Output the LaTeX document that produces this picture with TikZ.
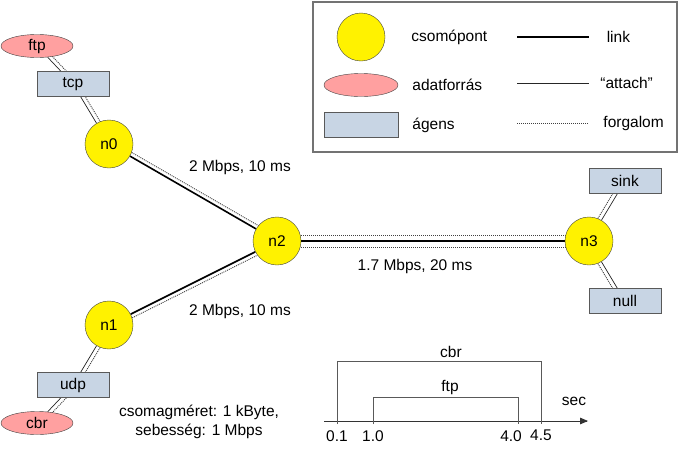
\documentclass[tikz,border=0pt]{standalone}
\usepackage{fontspec}
\setmainfont{Liberation Sans}
\usepackage{tikz}
\usetikzlibrary{shapes,arrows,backgrounds,positioning,calc}

\definecolor{srcpink}{RGB}{255,160,160}
\definecolor{agentblue}{RGB}{200,213,228}

\begin{document}
\begin{tikzpicture}[x=1pt, y=-1pt, every node/.style={font=\fontsize{15.5}{18.5}\selectfont}]
		\tikzstyle{Node} 	= [circle, draw=black!75, fill=yellow, minimum size=48pt, inner sep=0pt]
		\tikzstyle{Source}	= [ellipse, draw=black!75, fill=srcpink, minimum width=72pt, minimum height=23pt, inner sep=0pt]
		\tikzstyle{Agent}	= [rectangle, draw=black!65, fill=agentblue, minimum width=72pt, minimum height=25pt, inner sep=0pt]
		\tikzstyle{Link}	= [line width=1.6pt, black]
		\tikzstyle{Attach}	= [line width=0.7pt, black!85]
		\tikzstyle{Traffic}	= [line width=0.9pt, black!75, dash pattern=on 1pt off 1pt]
		\tikzstyle{Time}	= [line width=0.8pt, black!65]

		\useasboundingbox (0,0) rectangle (680,450);

		\node (n0) at (109, 144) [Node]{n0};
		\node (n1) at (109, 325) [Node]{n1};
		\node (n2) at (277, 241) [Node]{n2};
		\node (n3) at (589, 241) [Node]{n3};
		\node (ftp) at (37, 46) [Source]{ftp};
		\node (cbr) at (37, 423) [Source]{cbr};
		\node (tcp) at (73, 84) [Agent]{tcp};
		\node (udp) at (73, 385) [Agent]{udp};
		\node (sink) at (625, 181) [Agent]{sink};
		\node (null) at (625, 301) [Agent]{null};

		\begin{scope}[on background layer]
			\draw [-] (n0) to (n2) [Link];
			\draw [-] ($(n0)!4pt!90:(n2)$) to ($(n2)!4pt!-90:(n0)$) [Traffic];
			\draw [-] (n1) to (n2) [Link];
			\draw [-] ($(n1)!4pt!-90:(n2)$) to ($(n2)!4pt!90:(n1)$) [Traffic];
			\draw [-] (n2) to (n3) [Link];
			\draw [-] ($(n2)!6pt!90:(n3)$) to ($(n3)!6pt!-90:(n2)$) [Traffic];
			\draw [-] ($(n2)!6pt!-90:(n3)$) to ($(n3)!6pt!90:(n2)$) [Traffic];
			\draw [-] (ftp) to (tcp) [Attach];
			\draw [-] ($(ftp)!4pt!90:(tcp)$) to ($(tcp)!4pt!-90:(ftp)$) [Traffic];
			\draw [-] (tcp) to (n0) [Attach];
			\draw [-] ($(tcp)!4pt!90:(n0)$) to ($(n0)!4pt!-90:(tcp)$) [Traffic];
			\draw [-] (n1) to (udp) [Attach];
			\draw [-] ($(n1)!4pt!90:(udp)$) to ($(udp)!4pt!-90:(n1)$) [Traffic];
			\draw [-] (udp) to (cbr) [Attach];
			\draw [-] ($(udp)!4pt!90:(cbr)$) to ($(cbr)!4pt!-90:(udp)$) [Traffic];
			\draw [-] (n3) to (sink) [Attach];
			\draw [-] ($(n3)!4pt!90:(sink)$) to ($(sink)!4pt!-90:(n3)$) [Traffic];
			\draw [-] (n3) to (null) [Attach];
			\draw [-] ($(n3)!4pt!-90:(null)$) to ($(null)!4pt!90:(n3)$) [Traffic];
		\end{scope}

		\node (l02) at (240, 167) {2 Mbps, 10 ms};
		\node (l12) at (240, 311) {2 Mbps, 10 ms};
		\node (l23) at (415, 266) {1.7 Mbps, 20 ms};
		\node (size) at (199, 422) [align=center, inner sep=0pt]{csomagm\'eret: 1 kByte,\\sebess\'eg: 1 Mbps};

		% legend
		\draw [black!55, line width=1.4pt] (313, 2) rectangle (677, 152);
		\node (kNode) at (361, 37) [Node]{};
		\node (kSource) at (361, 85) [Source, minimum width=74pt]{};
		\node (kAgent) at (361, 125) [Agent, minimum width=74pt]{};
		\node [right=26pt of kNode, inner sep=0pt] {csomópont};
		\node [right=14pt of kSource, inner sep=0pt] {adatforrás};
		\node [right=14pt of kAgent, inner sep=0pt] {ágens};
		\coordinate (kLinkA) at (517, 37);
		\coordinate (kLinkB) at (589, 37);
		\coordinate (kAttA) at (517, 83);
		\coordinate (kAttB) at (589, 83);
		\coordinate (kTrA) at (517, 123);
		\coordinate (kTrB) at (589, 123);
		\draw (kLinkA) -- (kLinkB) [Link] node [right=17pt, inner sep=0pt, black]{link};
		\draw (kAttA) -- (kAttB) [Attach] node [right=11pt, inner sep=0pt, black]{“attach”};
		\draw (kTrA) -- (kTrB) [Traffic] node [right=14pt, inner sep=0pt, black]{forgalom};

		% time axis
		\coordinate (t0) at (324, 421);
		\coordinate (tEnd) at (588, 421);
		\coordinate (t01) at (337, 424);
		\coordinate (t10) at (373, 424);
		\coordinate (t40) at (518, 424);
		\coordinate (t45) at (541, 424);
		\draw [-triangle 45, Time, black!80] (t0) -- (tEnd);
		\draw [Time] (t01) -- ++(0, -63) -| (t45);
		\draw [Time] (t10) -- ++(0, -27) -| (t40);
		\node at (451, 352) {cbr};
		\node at (450, 387) {ftp};
		\node at (574, 401) {sec};
		\node [below=6pt of t01, inner sep=0pt] {0.1};
		\node [below=6pt of t10, inner sep=0pt] {1.0};
		\node [below left=6pt and -4pt of t40, inner sep=0pt] {4.0};
		\node [below=6pt of t45, inner sep=0pt] {4.5};
	\end{tikzpicture}
\end{document}
